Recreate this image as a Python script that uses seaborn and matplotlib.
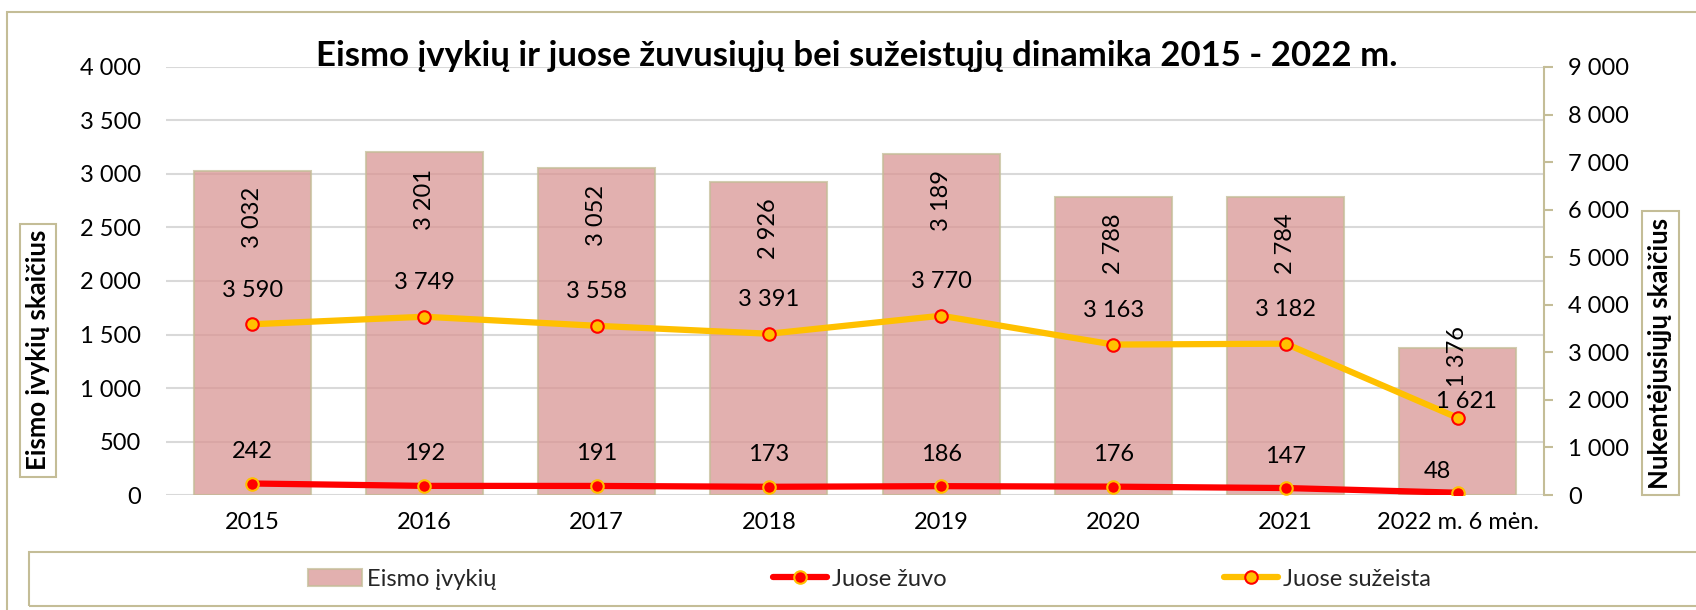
import numpy as np
import pandas as pd
import seaborn as sns
import matplotlib.pyplot as plt
from matplotlib.patches import Patch, Rectangle
from matplotlib.lines import Line2D
from matplotlib.ticker import FuncFormatter


# Data
metai = ["2015", "2016", "2017", "2018", "2019", "2020", "2021", "2022 m. 6 mėn."]
eismo_ivykiu = [3032, 3201, 3052, 2926, 3189, 2788, 2784, 1376]
juose_zuvo = [242, 192, 191, 173, 186, 176, 147, 48]
juose_suzeista = [3590, 3749, 3558, 3391, 3770, 3163, 3182, 1621]

BAR_COLOR = "#D99694"
BAR_ALPHA = 0.75
TAN = "#C4BD97"
RED = "#FF0000"
YELLOW = "#FFC000"
FS = 17


def fmt_num(v, pos=None):
    return "{:,}".format(int(round(v))).replace(",", " ")


def main():
    df = pd.DataFrame({"metai": metai,
                       "eismo": eismo_ivykiu,
                       "zuvo": juose_zuvo,
                       "suzeista": juose_suzeista})

    sns.set_theme(style="white")
    plt.rcParams["font.family"] = ["Lato", "DejaVu Sans"]

    fig = plt.figure(figsize=(16.96, 6.10), dpi=100)
    ax = fig.add_axes([0.0979, 0.1885, 0.8125, 0.7017])

    # Bars (left axis)
    sns.barplot(data=df, x="metai", y="eismo", ax=ax, color=BAR_COLOR, saturation=1,
                width=0.68, edgecolor=TAN, linewidth=1.5, alpha=BAR_ALPHA)
    ax.set_xlim(-0.5, len(metai) - 0.5)
    ax.set_ylim(0, 4000)
    ax.set_yticks(np.arange(0, 4001, 500))
    ax.yaxis.set_major_formatter(FuncFormatter(fmt_num))
    ax.yaxis.grid(True, color="#D9D9D9", linewidth=1.5)
    ax.set_axisbelow(True)
    for s in ax.spines.values():
        s.set_visible(False)
    ax.tick_params(axis="y", length=0, pad=18, labelsize=FS, labelcolor="black")
    ax.tick_params(axis="x", length=0, pad=12, labelsize=FS, labelcolor="black")
    ax.set_xlabel("")
    ax.set_ylabel("")

    # bar labels, rotated inside the bar top (last one sits above)
    for i, v in enumerate(eismo_ivykiu):
        dy = -12 if i < len(eismo_ivykiu) - 1 else 16
        ax.annotate(fmt_num(v), (i, v), xytext=(0, dy), textcoords="offset points",
                    rotation=90, ha="center", va="top", fontsize=FS, color="black")

    # Lines (right axis)
    ax2 = ax.twinx()
    sns.pointplot(data=df, x="metai", y="zuvo", ax=ax2, color=RED, errorbar=None,
                  markers="o", linewidth=4.5, markersize=9,
                  markerfacecolor=RED, markeredgecolor=YELLOW, markeredgewidth=1.5)
    sns.pointplot(data=df, x="metai", y="suzeista", ax=ax2, color=YELLOW, errorbar=None,
                  markers="o", linewidth=4.5, markersize=9,
                  markerfacecolor=YELLOW, markeredgecolor=RED, markeredgewidth=1.5)
    ax2.set_xlim(-0.5, len(metai) - 0.5)
    ax2.set_ylim(0, 9000)
    ax2.set_yticks(np.arange(0, 9001, 1000))
    ax2.yaxis.set_major_formatter(FuncFormatter(fmt_num))
    ax2.grid(False)
    for k, s in ax2.spines.items():
        s.set_visible(k == "right")
    ax2.spines["right"].set_color(TAN)
    ax2.spines["right"].set_linewidth(1.5)
    ax2.tick_params(axis="y", length=6.5, width=1.5, color=TAN, pad=11,
                    labelsize=FS, labelcolor="black", right=True)
    ax2.set_xlabel("")
    ax2.set_ylabel("")

    last = len(metai) - 1
    for i, v in enumerate(juose_zuvo):
        dx, dy = (-15, 15) if i == last else (0, 23)
        ax2.annotate(fmt_num(v), (i, v), xytext=(dx, dy), textcoords="offset points",
                     ha="center", va="center", fontsize=FS, color="black")
    for i, v in enumerate(juose_suzeista):
        dx, dy = (6, 11.5) if i == last else (0, 24.5)
        ax2.annotate(fmt_num(v), (i, v), xytext=(dx, dy), textcoords="offset points",
                     ha="center", va="center", fontsize=FS, color="black")

    # Title
    fig.text(0.505, 0.892, "Eismo įvykių ir juose žuvusiųjų bei sužeistųjų dinamika 2015 - 2022 m.",
             ha="center", va="baseline", fontsize=25, fontweight="bold", color="black")

    # Axis titles in boxes
    box = dict(boxstyle="square,pad=0.25", fc="white", ec=TAN, lw=1.5)
    fig.text(0.0224, 0.426, "Eismo įvykių skaičius", rotation=90, ha="center", va="center",
             fontsize=18.5, fontweight="bold", color="black", bbox=box)
    fig.text(0.979, 0.421, "Nukentėjusiųjų skaičius", rotation=90, ha="center", va="center",
             fontsize=18.5, fontweight="bold", color="black", bbox=box)

    # Chart frame and legend frame
    fig.patches.append(Rectangle((0.0041, -0.05), 1.2, 1.03, transform=fig.transFigure,
                                 fill=False, ec=TAN, lw=1.5))
    fig.patches.append(Rectangle((0.0171, 0.0066), 1.2, 0.0885, transform=fig.transFigure,
                                 fill=False, ec=TAN, lw=1.5))

    # Legend entries
    handles = [Patch(fc=BAR_COLOR, alpha=BAR_ALPHA, ec=TAN, lw=1.5),
               Line2D([], [], color=RED, lw=4.5, marker="o", ms=9, mfc=RED, mec=YELLOW, mew=1.5),
               Line2D([], [], color=YELLOW, lw=4.5, marker="o", ms=9, mfc=YELLOW, mec=RED, mew=1.5)]
    labels = ["Eismo įvykių", "Juose žuvo", "Juose sužeista"]
    xs = [308, 773, 1224]
    for h, l, x in zip(handles, labels, xs):
        fig.legend([h], [l], loc="center left", bbox_to_anchor=(x / 1696, 1 - 579 / 610),
                   frameon=False, fontsize=FS, handlelength=2.3, handletextpad=0.2,
                   borderpad=0, borderaxespad=0)

    fig.savefig("out.png", dpi=100)


if __name__ == "__main__":
    main()
